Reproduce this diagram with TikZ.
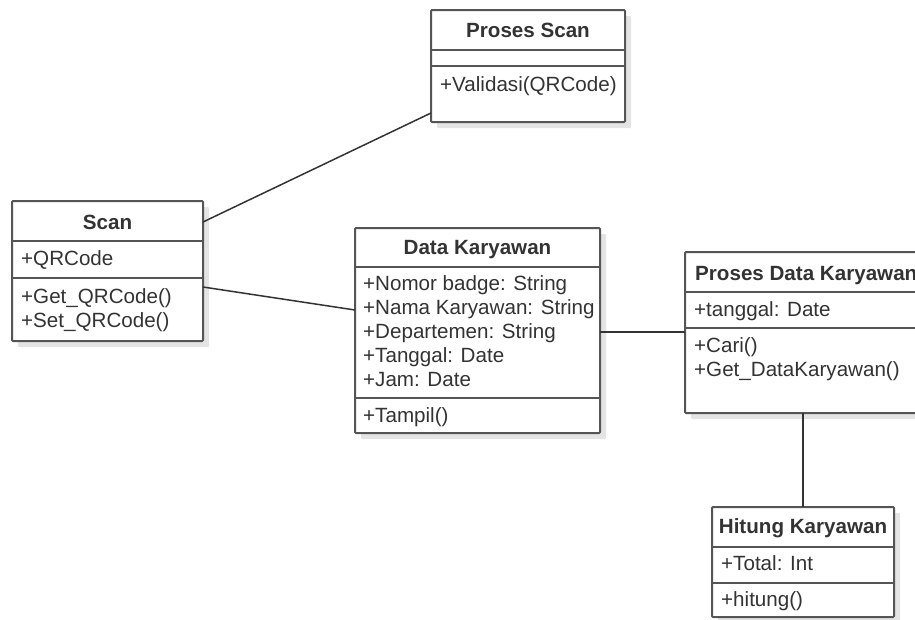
\documentclass[tikz,border=0pt]{standalone}
\usepackage{fontspec}
\setmainfont{Liberation Sans}
\usetikzlibrary{calc,shadows}
\definecolor{umlline}{HTML}{555555}
\definecolor{umltext}{HTML}{333333}
\definecolor{umlshadow}{HTML}{E4E4E4}
\begin{document}
\begin{tikzpicture}[x=1pt,y=-1pt,
  classbox/.style={draw=umlline, line width=2pt, fill=white, inner sep=0pt,
    outer sep=0pt, anchor=north west, rounded corners=1pt,
    drop shadow={shadow xshift=6pt, shadow yshift=-6pt, fill=umlshadow, opacity=1}},
  rowline/.style={draw=umlline, line width=2pt},
  ctitle/.style={inner sep=0pt, text height=14.6pt, text depth=0pt,
    font=\fontsize{20.6}{24}\selectfont\bfseries, text=umltext},
  crow/.style={inner sep=0pt, anchor=west, text height=14.6pt, text depth=0pt,
    font=\fontsize{20.6}{24}\selectfont, text=umltext},
  assoc/.style={draw=umltext, line width=1.5pt}]
\useasboundingbox (0,0) rectangle (915,619);
\clip (0,0) rectangle (915,619);

% Proses Scan
\node[classbox, minimum width=194pt, minimum height=112pt] (ps) at (431,10) {};
\draw[rowline] ($(ps.north west)+(0,40)$) -- ($(ps.north east)+(0,40)$);
\draw[rowline] ($(ps.north west)+(0,56)$) -- ($(ps.north east)+(0,56)$);
\node[ctitle] (psT) at ($(ps.north)+(0,20)$) {Proses Scan};
\node[crow] (psM1) at ($(ps.north west)+(9,74)$) {+Validasi(QRCode)};

% Scan
\node[classbox, minimum width=191pt, minimum height=140pt] (sc) at (12,201) {};
\draw[rowline] ($(sc.north west)+(0,40)$) -- ($(sc.north east)+(0,40)$);
\draw[rowline] ($(sc.north west)+(0,77)$) -- ($(sc.north east)+(0,77)$);
\node[ctitle] (scT) at ($(sc.north)+(0,21)$) {Scan};
\node[crow] (scA1) at ($(sc.north west)+(9,57)$) {+QRCode};
\node[crow] (scM1) at ($(sc.north west)+(9,95)$) {+Get\_QRCode()};
\node[crow] (scM2) at ($(sc.north west)+(9,119)$) {+Set\_QRCode()};

% Data Karyawan
\node[classbox, minimum width=245pt, minimum height=205pt] (dk) at (355,228) {};
\draw[rowline] ($(dk.north west)+(0,39)$) -- ($(dk.north east)+(0,39)$);
\draw[rowline] ($(dk.north west)+(0,170)$) -- ($(dk.north east)+(0,170)$);
\node[ctitle] (dkT) at ($(dk.north)+(0,19)$) {Data Karyawan};
\node[crow] (dkA1) at ($(dk.north west)+(8,55)$) {+Nomor badge: String};
\node[crow] (dkA2) at ($(dk.north west)+(8,79)$) {+Nama Karyawan: String};
\node[crow] (dkA3) at ($(dk.north west)+(8,103)$) {+Departemen: String};
\node[crow] (dkA4) at ($(dk.north west)+(8,127)$) {+Tanggal: Date};
\node[crow] (dkA5) at ($(dk.north west)+(8,151)$) {+Jam: Date};
\node[crow] (dkM1) at ($(dk.north west)+(8,187)$) {+Tampil()};

% Proses Data Karyawan
\node[classbox, minimum width=250pt, minimum height=161pt] (pd) at (685,252) {};
\draw[rowline] ($(pd.north west)+(0,40)$) -- ($(pd.north east)+(0,40)$);
\draw[rowline] ($(pd.north west)+(0,76)$) -- ($(pd.north east)+(0,76)$);
\node[ctitle, anchor=west] (pdT) at ($(pd.north west)+(10,21)$) {Proses Data Karyawan};
\node[crow] (pdA1) at ($(pd.north west)+(9,57)$) {+tanggal: Date};
\node[crow] (pdM1) at ($(pd.north west)+(9,93)$) {+Cari()};
\node[crow] (pdM2) at ($(pd.north west)+(9,117)$) {+Get\_DataKaryawan()};

% Hitung Karyawan
\node[classbox, minimum width=182pt, minimum height=110pt] (hk) at (712,507) {};
\draw[rowline] ($(hk.north west)+(0,40)$) -- ($(hk.north east)+(0,40)$);
\draw[rowline] ($(hk.north west)+(0,76)$) -- ($(hk.north east)+(0,76)$);
\node[ctitle] (hkT) at ($(hk.north)+(0,19)$) {Hitung Karyawan};
\node[crow] (hkA1) at ($(hk.north west)+(9,56)$) {+Total: Int};
\node[crow] (hkM1) at ($(hk.north west)+(9,92)$) {+hitung()};

% Associations
\draw[assoc] ($(sc.north east)+(0,21)$) -- ($(ps.south west)+(0,-9)$);
\draw[assoc] ($(sc.north east)+(0,86)$) -- ($(dk.north west)+(0,82)$);
\draw[assoc] ($(dk.north east)+(0,104)$) -- ($(pd.north west)+(0,80)$);
\draw[assoc] ($(pd.south west)+(118,0)$) -- ($(hk.north west)+(91,0)$);
\end{tikzpicture}
\end{document}
